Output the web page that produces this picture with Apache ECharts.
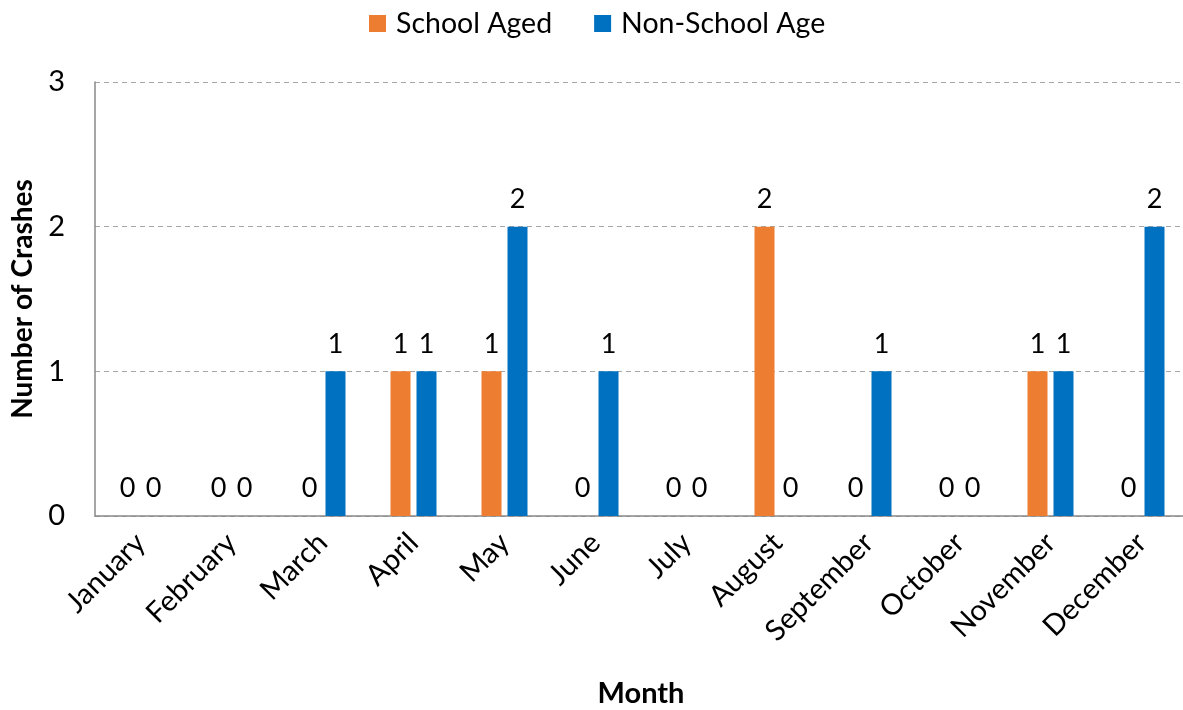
<!DOCTYPE html>
<html>
<head>
<meta charset="utf-8">
<script src="https://cdn.jsdelivr.net/npm/echarts@6/dist/echarts.min.js"></script>
<style>
  html, body { margin: 0; padding: 0; background: #fff; }
  #chart { width: 1183px; height: 710px; }
</style>
</head>
<body>
<div id="chart"></div>
<script>
// Monthly crash counts by age group
const months = ['January', 'February', 'March', 'April', 'May', 'June',
  'July', 'August', 'September', 'October', 'November', 'December'];
const schoolAged = [0, 0, 0, 1, 1, 0, 0, 2, 0, 0, 1, 0];
const nonSchoolAge = [0, 0, 1, 1, 2, 1, 0, 0, 1, 0, 1, 2];
const yTicks = [0, 1, 2, 3];

const FONT = 'Lato, "Open Sans", sans-serif';

const chart = echarts.init(document.getElementById('chart'), null, { renderer: 'canvas' });

const labelStyle = {
  show: true,
  position: 'top',
  distance: 14,
  color: '#000',
  fontFamily: FONT,
  fontSize: 27
};

chart.setOption({
  animation: false,
  textStyle: { fontFamily: FONT },
  legend: {
    top: 4,
    left: 364,
    itemWidth: 17,
    itemHeight: 17,
    itemGap: 42,
    icon: 'rect',
    textStyle: { fontFamily: FONT, fontSize: 28.5, color: '#000', padding: [0, 0, 0, 5] },
    data: ['School Aged', 'Non-School Age']
  },
  grid: {
    left: 95,
    top: 82,
    width: 1092,
    height: 434,
    containLabel: false,
    outerBoundsMode: 'none'
  },
  xAxis: {
    type: 'category',
    data: months,
    name: 'Month',
    nameLocation: 'middle',
    nameGap: 163,
    nameTextStyle: { fontFamily: FONT, fontSize: 29, fontWeight: 'bold', color: '#000' },
    axisLine: { lineStyle: { color: '#898989', width: 1.5 } },
    axisTick: { show: false },
    axisLabel: {
      rotate: 45,
      interval: 0,
      margin: 22,
      color: '#000',
      fontFamily: FONT,
      fontSize: 29
    }
  },
  yAxis: {
    type: 'value',
    min: yTicks[0],
    max: yTicks[yTicks.length - 1],
    interval: 1,
    name: 'Number of Crashes',
    nameLocation: 'middle',
    nameGap: 58,
    nameTextStyle: { fontFamily: FONT, fontSize: 28, fontWeight: 'bold', color: '#000' },
    axisLine: { show: true, lineStyle: { color: '#898989', width: 1.5 } },
    axisTick: { show: false },
    axisLabel: { margin: 30, color: '#000', fontFamily: FONT, fontSize: 29 },
    splitLine: { lineStyle: { color: '#a6a6a6', type: [5, 4], width: 1 } }
  },
  series: [
    {
      name: 'School Aged',
      type: 'bar',
      data: schoolAged,
      barWidth: 20,
      barGap: '30%',
      itemStyle: { color: '#ED7D31' },
      label: labelStyle
    },
    {
      name: 'Non-School Age',
      type: 'bar',
      data: nonSchoolAge,
      barWidth: 20,
      barGap: '30%',
      itemStyle: { color: '#0070C0' },
      label: labelStyle
    }
  ]
});
</script>
</body>
</html>
